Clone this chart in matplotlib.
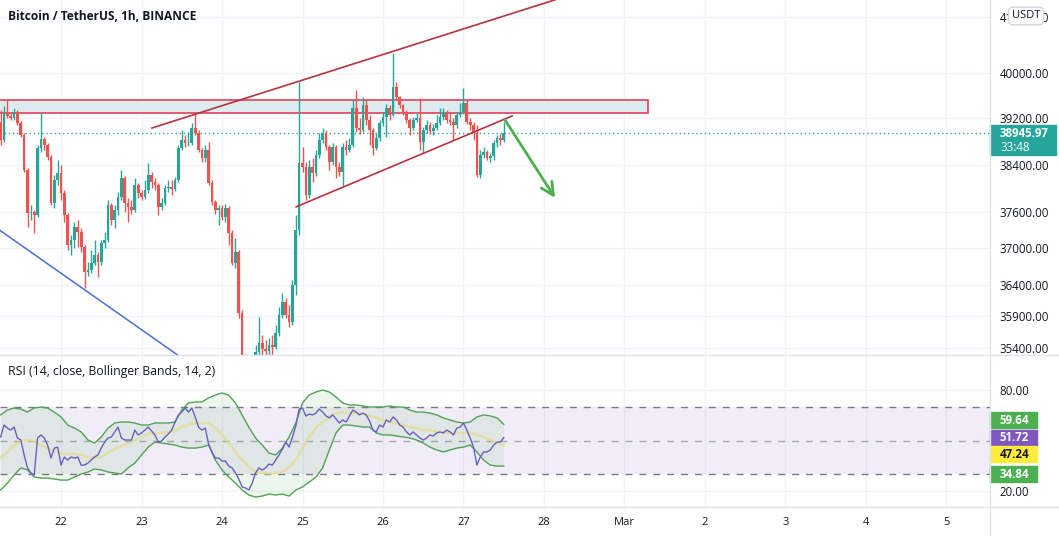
import numpy as np
import matplotlib
matplotlib.use("Agg")
import matplotlib.pyplot as plt
from matplotlib.patches import Rectangle
from matplotlib.lines import Line2D
from matplotlib.ticker import NullLocator

# hourly BTC/USDT candles, first one at Feb 21 06:00 (hour -18 from Feb 22 00:00)
first_open = 39138
close = [38826, 39296, 39243, 39208, 39313, 39121, 38912, 38315, 37590, 37607,
         37557, 38689, 38843, 38740, 38536, 37757, 38145, 38264, 37925, 37557,
         37059, 37141, 37357, 37274, 37026, 36618, 36651, 36765, 36895, 36781,
         37092, 37141, 37724, 37473, 37640, 37858, 38179, 37757, 37690, 37640,
         38061, 37925, 37858, 37976, 38230, 38111, 38061, 37690, 37757, 38010,
         38027, 37993, 38145, 38689, 38826, 38775, 38775, 39034, 38947, 38655,
         38519, 38655, 38094, 37774, 37640, 37673, 37523, 37673, 37257, 36765,
         36944, 35959, 35249, 34650, 34400, 34750, 35330, 35484, 35375, 35343,
         35453, 35406, 35642, 35927, 36135, 35927, 35816, 36408, 37307, 38434,
         38366, 37892, 38366, 38264, 38570, 38826, 38947, 38706, 38451, 38706,
         38366, 38281, 38706, 38655, 38740, 39383, 39034, 38999, 39436, 39173,
         38999, 38689, 38860, 39121, 39226, 39383, 39261, 39753, 39576, 39436,
         39313, 39173, 39034, 39173, 39208, 38792, 38999, 39086, 38982, 39034,
         39121, 39226, 39313, 39173, 39138, 39086, 39261, 39313, 39470, 39138,
         39086, 38947, 38230, 38570, 38621, 38519, 38553, 38775, 38860, 38826,
         38945.97]
high = [39348, 39418, 39523, 39313, 39383, 39348, 39156, 38947, 38349, 37724,
        37640, 38740, 39296, 38878, 38775, 38570, 38230, 38485, 38400, 37976,
        37590, 37224, 37440, 37473, 37340, 37059, 36781, 36977, 37141, 36944,
        37141, 37274, 37808, 37757, 37724, 37942, 38315, 38213, 37841, 37808,
        38179, 38094, 37976, 38145, 38434, 38281, 38179, 38094, 37841, 38061,
        38145, 38145, 38196, 38740, 38999, 38912, 38964, 39121, 39296, 38999,
        38689, 38740, 38792, 38145, 37808, 37724, 37724, 37740, 37707, 37307,
        37174, 36977, 36007, 35300, 34800, 34900, 35450, 35896, 35610, 35531,
        35563, 35610, 35768, 36055, 36279, 36199, 36087, 36489, 37557, 39841,
        38706, 38451, 38485, 38519, 38655, 38947, 39034, 38999, 38740, 38775,
        38740, 38451, 38775, 38826, 38860, 39523, 39699, 39208, 39576, 39523,
        39261, 39034, 38947, 39173, 39313, 39453, 39436, 40357, 39841, 39593,
        39453, 39348, 39208, 39226, 39296, 39558, 39051, 39173, 39138, 39104,
        39261, 39383, 39383, 39348, 39313, 39208, 39313, 39470, 39735, 39523,
        39208, 39138, 39086, 38655, 38706, 38655, 38604, 38826, 38912, 38930,
        39138]
low = [38740, 38792, 39208, 39173, 39173, 39086, 38878, 38281, 37357, 37473,
       37257, 37523, 38621, 38655, 38485, 37724, 37673, 38061, 37808, 37440,
       36977, 36895, 37010, 37026, 36944, 36359, 36553, 36602, 36732, 36537,
       36732, 37010, 37108, 37390, 37340, 37557, 37808, 37607, 37440, 37573,
       37607, 37841, 37808, 37825, 37925, 38010, 37976, 37557, 37640, 37724,
       37942, 37892, 37959, 38111, 38655, 38706, 38723, 38740, 38912, 38621,
       38451, 38451, 38061, 37724, 37573, 37390, 37473, 37440, 37059, 36732,
       36684, 35880, 35140, 34550, 34320, 34350, 34700, 35218, 35187, 35140,
       35218, 35249, 35375, 35594, 35880, 35880, 35737, 35768, 36247, 37224,
       38281, 37808, 37841, 38111, 38213, 38519, 38775, 38655, 38315, 38400,
       38179, 38213, 38027, 38570, 38621, 38706, 38964, 38930, 38964, 39086,
       38740, 38570, 38655, 38809, 39069, 38878, 39173, 39243, 39523, 39383,
       39261, 39121, 38912, 38999, 39138, 38655, 38604, 38947, 38930, 38912,
       38999, 39086, 39173, 39121, 39086, 38826, 39034, 39226, 39278, 39104,
       38999, 38826, 38196, 38179, 38519, 38485, 38451, 38485, 38706, 38740,
       38792]

# RSI(14) and its Bollinger bands (bands read every second candle)
rsi = [52.1, 59.2, 57.4, 56.2, 58.0, 51.5, 50.3, 41.4, 33.7, 30.7,
       29.5, 51.5, 53.3, 51.5, 47.3, 39.6, 45.5, 46.1, 35.4, 40.2,
       38.4, 40.2, 39.6, 40.2, 35.4, 35.4, 36.6, 38.4, 40.2, 41.4,
       45.5, 49.1, 51.5, 52.1, 55.1, 58.0, 51.5, 50.3, 50.3, 50.3,
       56.2, 53.3, 54.5, 56.2, 58.0, 55.6, 53.3, 49.1, 49.7, 52.1,
       53.9, 56.2, 61.0, 65.2, 66.9, 69.3, 66.9, 69.3, 64.0, 58.0,
       56.2, 57.4, 47.9, 43.2, 39.6, 39.6, 37.8, 37.8, 34.8, 33.7,
       30.7, 27.1, 22.4, 21.8, 20.6, 24.7, 30.7, 33.7, 32.5, 33.7,
       36.0, 35.4, 38.4, 41.4, 44.9, 49.1, 46.1, 52.1, 58.6, 68.7,
       69.3, 64.6, 65.7, 65.2, 66.3, 68.7, 66.9, 64.6, 63.4, 65.2,
       62.8, 60.4, 62.2, 61.0, 64.6, 68.1, 66.9, 65.2, 66.3, 65.2,
       61.6, 56.2, 55.1, 59.2, 58.0, 62.2, 61.0, 64.0, 62.2, 59.2,
       58.0, 55.1, 53.3, 55.1, 53.3, 51.5, 50.3, 51.5, 53.3, 52.7,
       54.5, 55.1, 54.5, 56.2, 55.1, 53.3, 57.4, 58.0, 60.4, 56.2,
       51.5, 46.1, 35.4, 40.2, 43.2, 43.2, 44.4, 47.3, 49.1, 49.1,
       51.72]
bb_upper = [65.2, 68.1, 69.3, 68.7, 66.9, 69.3, 69.9, 69.3, 66.9, 64.0,
            59.2, 57.4, 55.1, 50.3, 48.5, 52.1, 57.4, 60.4, 61.0, 61.0,
            60.4, 59.2, 59.2, 60.4, 60.4, 60.4, 61.0, 68.1, 72.3, 72.9,
            72.9, 75.3, 77.0, 78.2, 77.0, 72.3, 65.2, 58.0, 51.5, 47.3,
            42.6, 41.4, 45.5, 52.1, 60.4, 72.3, 77.0, 78.8, 80.0, 78.8,
            75.8, 72.3, 71.1, 71.1, 70.5, 69.9, 69.9, 69.9, 70.5, 69.9,
            69.9, 68.1, 66.9, 66.9, 66.3, 65.2, 63.4, 62.2, 61.0, 60.4,
            61.0, 64.0, 65.2, 64.6, 63.4, 59.64]
bb_lower = [20.6, 24.7, 29.5, 33.7, 32.5, 28.3, 27.7, 27.7, 27.1, 26.5,
            26.5, 28.3, 30.1, 31.3, 33.1, 32.5, 31.3, 30.7, 30.1, 33.7,
            36.6, 41.4, 46.1, 49.1, 48.5, 47.9, 47.3, 46.1, 45.5, 45.5,
            46.1, 47.3, 38.4, 32.5, 28.3, 24.7, 20.6, 17.6, 16.4, 17.0,
            18.2, 17.6, 18.2, 17.0, 20.6, 22.4, 25.3, 28.3, 33.7, 44.4,
            54.5, 59.2, 59.2, 58.6, 58.0, 58.0, 54.5, 53.3, 53.3, 52.7,
            52.1, 51.5, 50.3, 48.5, 46.1, 44.4, 43.2, 44.4, 45.5, 46.1,
            47.3, 43.2, 38.4, 35.4, 34.8, 34.84]
bb_basis = [39.6, 43.2, 47.3, 49.7, 50.3, 49.1, 47.3, 45.5, 43.8, 42.6,
            42.0, 42.0, 41.4, 40.2, 39.6, 40.2, 42.6, 44.9, 46.7, 48.5,
            50.3, 52.1, 53.9, 54.5, 54.5, 55.1, 56.2, 58.0, 59.2, 60.4,
            60.4, 60.4, 57.4, 53.3, 48.5, 43.2, 38.4, 34.3, 31.3, 30.7,
            30.1, 30.7, 31.3, 34.3, 38.4, 45.5, 52.1, 57.4, 61.0, 64.0,
            66.3, 66.9, 66.3, 66.3, 65.7, 64.6, 63.4, 62.2, 61.0, 60.4,
            59.2, 58.0, 57.4, 56.2, 56.2, 55.1, 55.1, 54.5, 54.5, 54.5,
            54.5, 53.3, 52.1, 50.3, 48.5, 47.24]

# drawings (hours from Feb 22 00:00, prices)
zone_t = [-30, 175.0]
zone_p = [39296, 39523]
channel_top_t = [27.1, 160.7]
channel_top_p = [39034, 41586]
channel_bot_t = [70.1, 134.5]
channel_bot_p = [37690, 39243]
blue_t = [-25, 40]
blue_p = [37563, 35095]
arrow_t = [132.4, 147.3]
arrow_p = [39173, 37841]

last_price = 38945.97
countdown = "33:48"
price_ticks = [35400, 35900, 36400, 37000, 37600, 38400, 39200, 40000, 41000]
rsi_ticks = [20, 80]
day_labels = ["22", "23", "24", "25", "26", "27", "28", "Mar", "2", "3", "4", "5"]
rsi_tags = [(59.64, "#4caf50", "white", -4), (51.72, "#7e57c2", "white", 0),
            (47.24, "#ffeb3b", "#131722", 9), (34.84, "#4caf50", "white", 8)]

W, H = 1059, 536
UP, DOWN = "#26a69a", "#ef5350"
TXT = "#131722"
GRID = "#f0f3fa"
SEP = "#e0e3eb"
plt.rcParams["font.family"] = ["Open Sans", "DejaVu Sans"]

fig = plt.figure(figsize=(W / 100, H / 100), dpi=100)
fx = lambda px: px / W
fy = lambda py: 1 - py / H

ax = fig.add_axes([0, fy(355), fx(990), 355 / H])
ax2 = fig.add_axes([0, fy(507), fx(990), (507 - 355) / H])

hours = np.arange(len(close)) - 18
close = np.array(close)
opens = np.concatenate([[first_open], close[:-1]])
cols = np.where(close >= opens, UP, DOWN)

# ---- price pane
ax.set_yscale("log")
ax.set_xlim(-18.2, 277)
ax.set_ylim(35288, 41319)
ax.add_patch(Rectangle((zone_t[0], zone_p[0]), zone_t[1] - zone_t[0], zone_p[1] - zone_p[0],
                       fc="#dcecee", ec="#e0405c", lw=1.2, zorder=1))
ax.vlines(hours, low, high, colors=cols, lw=1, zorder=3)
ax.bar(hours, np.abs(close - opens), bottom=np.minimum(close, opens), width=0.8,
       color=cols, linewidth=0, zorder=3)
ax.plot(channel_top_t, channel_top_p, color="#b8323f", lw=1.2, zorder=4)
ax.plot(channel_bot_t, channel_bot_p, color="#b8323f", lw=1.2, zorder=4)
ax.plot(blue_t, blue_p, color="#4a6fd8", lw=1.1, zorder=4)
ax.annotate("", xy=(arrow_t[1], arrow_p[1]), xytext=(arrow_t[0], arrow_p[0]),
            arrowprops=dict(arrowstyle="->,head_length=0.9,head_width=0.45",
                            color="#4caf50", lw=2, shrinkA=0, shrinkB=0), zorder=5)
ax.axhline(last_price, color=UP, ls=(0, (1, 2)), lw=1, zorder=2)

ax.set_xticks(np.arange(0, 277, 24))
ax.yaxis.tick_right()
ax.set_yticks(price_ticks)
ax.set_yticklabels([f"{v:.2f}" for v in price_ticks])
ax.yaxis.set_minor_locator(NullLocator())
ax.tick_params(axis="x", labelbottom=False, length=0)
ax.tick_params(axis="y", length=0, pad=7, labelsize=8.3, labelcolor=TXT)
ax.grid(True, color=GRID, lw=1)
ax.set_axisbelow(True)
for s in ax.spines.values():
    s.set_visible(False)

# ---- RSI pane
ax2.set_xlim(-18.2, 277)
ax2.set_ylim(10.5, 100.8)
ax2.axhspan(30, 70, color="#7e57c2", alpha=0.1, lw=0)
for lvl, a in [(70, 1), (50, 0.6), (30, 1)]:
    ax2.axhline(lvl, color="#787b86", ls=(0, (5, 5)), lw=1, alpha=a)
band_hours = hours[::2]
ax2.fill_between(band_hours, bb_lower, bb_upper, color="#4caf50", alpha=0.1, lw=0)
ax2.plot(band_hours, bb_upper, color="#52a256", lw=1)
ax2.plot(band_hours, bb_lower, color="#52a256", lw=1)
ax2.plot(band_hours, bb_basis, color="#e6da7a", lw=1.8, alpha=0.6)
ax2.plot(hours, rsi, color="#6a5fc1", lw=1)

ax2.set_xticks(np.arange(0, 277, 24))
ax2.set_xticklabels(day_labels)
ax2.yaxis.tick_right()
ax2.set_yticks(rsi_ticks)
ax2.set_yticklabels([f"{v:.2f}" for v in rsi_ticks])
ax2.tick_params(axis="x", length=0, pad=7, labelsize=8, labelcolor=TXT)
ax2.tick_params(axis="y", length=0, pad=7, labelsize=8.3, labelcolor=TXT)
ax2.grid(True, color=GRID, lw=1)
ax2.set_axisbelow(True)
for s in ax2.spines.values():
    s.set_visible(False)

# separators
for y in (355, 507):
    fig.add_artist(Line2D([0, 1], [fy(y), fy(y)], color=SEP, lw=1))
fig.add_artist(Line2D([fx(990), fx(990)], [0, 1], color=SEP, lw=1))

# titles
fig.text(fx(8), fy(16), "Bitcoin / TetherUS, 1h, BINANCE", fontsize=8.6, fontweight="bold",
         color=TXT, va="center")
fig.text(fx(8), fy(372), "RSI (14, close, Bollinger Bands, 14, 2)", fontsize=8.8,
         color=TXT, va="center")

fig.text(fx(1026), fy(16), "USDT", ha="center", va="center", fontsize=8, color=TXT,
         bbox=dict(boxstyle="round,pad=0.3,rounding_size=0.4", fc="white", ec="#d1d4dc", lw=1))

# last price tag
yp = ax.transData.transform((0, last_price))[1]
fig.add_artist(Rectangle((fx(990), (yp - 22) / H), fx(66), 30 / H, color=UP,
                         transform=fig.transFigure))
fig.text(fx(1000), yp / H, f"{last_price:.2f}", fontsize=8.3, fontweight="bold",
         color="white", va="center")
fig.text(fx(1000), (yp - 14) / H, countdown, fontsize=8.3, color="white", va="center")

# RSI value tags
for val, bg, fg, dy in rsi_tags:
    yv = ax2.transData.transform((0, val))[1] - dy
    fig.add_artist(Rectangle((fx(990), (yv - 8) / H), fx(47), 16 / H, color=bg,
                             transform=fig.transFigure))
    fig.text(fx(1000), yv / H, f"{val:.2f}", fontsize=8.3, fontweight="bold",
             color=fg, va="center")

fig.savefig("out.png", dpi=100)
